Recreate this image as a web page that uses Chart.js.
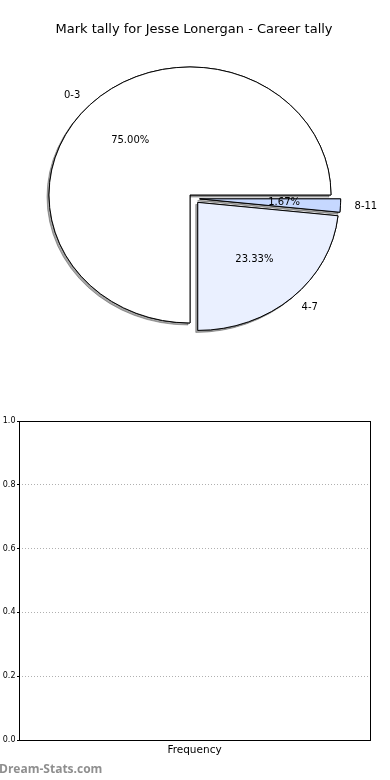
<!DOCTYPE html>
<html>
<head>
<meta charset="utf-8">
<script src="https://cdn.jsdelivr.net/npm/chart.js@4.4.1/dist/chart.umd.min.js"></script>
<style>
  html, body { margin: 0; padding: 0; background: #fff; }
  #wrap { position: relative; width: 390px; height: 780px; overflow: hidden; }
  #pieBox { position: absolute; left: 0; top: 0; width: 390px; height: 400px; }
  #barBox { position: absolute; left: 0; top: 400px; width: 390px; height: 380px; }
</style>
</head>
<body>
<div id="wrap">
  <div id="pieBox"><canvas id="pieChart"></canvas></div>
  <div id="barBox"><canvas id="barChart"></canvas></div>
</div>
<script>
// data
const tallyLabels = ['0-3', '4-7', '8-11'];
const tallyCounts = [45, 14, 1];
const tallyColors = ['#ffffff', '#eaf0ff', '#c6d8ff'];

const freqLabels = ['Frequency'];
const freqValues = [0];
const yTicks = [0, 0.2, 0.4, 0.6, 0.8, 1.0];

// pie is drawn as an ellipse, like the original
const RX = 141, RY = 128, EXPLODE = 0.04;
const SY = RY / RX;
const FONT = '"DejaVu Sans", sans-serif';

function wedgeGeom(arc) {
  const h = (arc.startAngle + arc.endAngle) / 2;
  return { h, ox: Math.cos(h) * EXPLODE * RX, oy: Math.sin(h) * EXPLODE * RX };
}

// draws the wedges squashed + exploded + shadowed
const pieDrawPlugin = {
  id: 'pieDraw',
  beforeDatasetsDraw(chart) {
    const ctx = chart.ctx;
    const meta = chart.getDatasetMeta(0);
    const cx = meta.data[0].x, cy = meta.data[0].y;
    ctx.save();
    ctx.translate(cx, cy);
    ctx.scale(1, SY);
    ctx.translate(-cx, -cy);
    ['shadow', 'face'].forEach(pass => {
      meta.data.forEach(arc => {
        const g = wedgeGeom(arc);
        ctx.save();
        if (pass === 'shadow') {
          ctx.shadowColor = 'rgba(77,77,77,0.5)';
          ctx.shadowOffsetX = -2;
          ctx.shadowOffsetY = 2;
          ctx.shadowBlur = 0;
        }
        ctx.translate(g.ox, g.oy);
        arc.draw(ctx);
        ctx.restore();
      });
    });
    ctx.restore();
    return false;
  },
  afterDraw(chart) {
    const ctx = chart.ctx;
    const meta = chart.getDatasetMeta(0);
    const vals = chart.data.datasets[0].data;
    const total = vals.reduce((a, b) => a + b, 0);
    ctx.save();
    ctx.font = '10px ' + FONT;
    ctx.fillStyle = '#000';
    ctx.textBaseline = 'middle';
    meta.data.forEach((arc, i) => {
      const g = wedgeGeom(arc);
      const bx = arc.x + g.ox, by = arc.y + g.oy * SY;
      const c = Math.cos(g.h), s = Math.sin(g.h);
      ctx.textAlign = 'center';
      ctx.fillText((vals[i] / total * 100).toFixed(2) + '%', bx + 0.6 * RX * c, by + 0.6 * RY * s);
      ctx.textAlign = c > 0 ? 'left' : 'right';
      ctx.fillText(chart.data.labels[i], bx + 1.1 * RX * c, by + 1.1 * RY * s);
    });
    ctx.restore();
  }
};

// pie goes counter-clockwise from east in the original, so reverse for chart.js (clockwise)
new Chart(document.getElementById('pieChart'), {
  type: 'pie',
  data: {
    labels: tallyLabels.slice().reverse(),
    datasets: [{
      data: tallyCounts.slice().reverse(),
      backgroundColor: tallyColors.slice().reverse(),
      borderColor: '#000',
      borderWidth: 1
    }]
  },
  options: {
    responsive: true,
    maintainAspectRatio: false,
    animation: false,
    events: [],
    rotation: 90,
    radius: RX,
    layout: { padding: { left: 0, right: 2, top: 0, bottom: 40.4 } },
    plugins: {
      legend: { display: false },
      tooltip: { enabled: false },
      title: {
        display: true,
        text: 'Mark tally for Jesse Lonergan - Career tally',
        color: '#000',
        font: { family: FONT, size: 13, weight: 'normal' },
        padding: { top: 22, bottom: 0 }
      }
    }
  },
  plugins: [pieDrawPlugin]
});

// frame + watermark
const framePlugin = {
  id: 'frame',
  afterDraw(chart) {
    const { ctx, chartArea: a } = chart;
    ctx.save();
    ctx.strokeStyle = '#000';
    ctx.lineWidth = 1;
    ctx.strokeRect(Math.round(a.left) + 0.5, Math.round(a.top) + 0.5,
      Math.round(a.right - a.left), Math.round(a.bottom - a.top));
    ctx.font = 'bold 12px "Open Sans", sans-serif';
    ctx.fillStyle = '#8f8f8f';
    ctx.textAlign = 'left';
    ctx.textBaseline = 'middle';
    ctx.fillText('Dream-Stats.com', -1, 370);
    ctx.restore();
  }
};

new Chart(document.getElementById('barChart'), {
  type: 'bar',
  data: {
    labels: freqLabels,
    datasets: [{ data: freqValues, backgroundColor: '#4a7ebb', borderWidth: 0 }]
  },
  options: {
    responsive: true,
    maintainAspectRatio: false,
    animation: false,
    events: [],
    layout: { padding: { left: 0, top: 21, right: 20, bottom: 20 } },
    plugins: { legend: { display: false }, tooltip: { enabled: false } },
    scales: {
      x: {
        grid: { display: false, drawTicks: false },
        border: { display: false },
        ticks: { padding: 4, color: '#000', font: { family: FONT, size: 10.5 } },
        afterFit(axis) { axis.height = 20; }
      },
      y: {
        min: 0,
        max: 1,
        afterBuildTicks(axis) { axis.ticks = yTicks.map(v => ({ value: v })); },
        grid: { color: '#b0b0b0', tickLength: 2, tickColor: '#000' },
        border: { display: false, dash: [1, 2] },
        ticks: {
          padding: 1.5,
          color: '#000',
          font: { family: FONT, size: 8 },
          callback: v => Number(v).toFixed(1)
        },
        afterFit(axis) { axis.width = 19; }
      }
    }
  },
  plugins: [framePlugin]
});
</script>
</body>
</html>
